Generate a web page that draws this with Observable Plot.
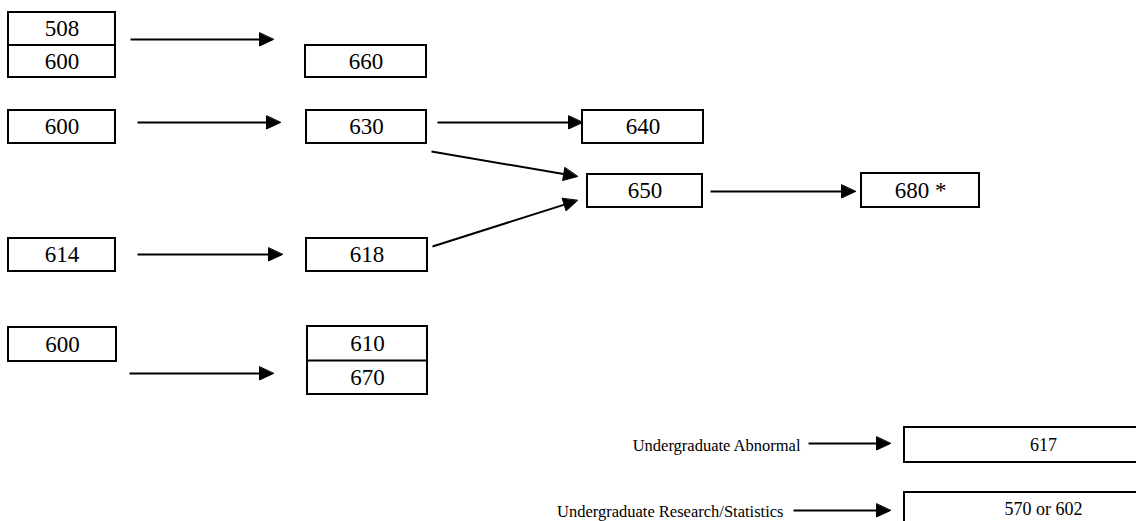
<!DOCTYPE html>
<html><head><meta charset="utf-8">
<script src="https://cdn.jsdelivr.net/npm/d3@7"></script>
<script src="https://cdn.jsdelivr.net/npm/@observablehq/plot@0.6"></script>
<style>html,body{margin:0;padding:0;background:#fff;overflow:hidden}</style>
</head><body><div id="chart"></div>
<script>
// Course labels (a box may hold one or two stacked courses)
const courseLabels = [
  ["508", "600"], ["660"],
  ["600"], ["630"], ["640"],
  ["650"], ["680 *"],
  ["614"], ["618"],
  ["600"], ["610", "670"],
  ["617"], ["570 or 602"]
];
// Text labels for undergraduate prerequisites
const sideLabels = ["Undergraduate Abnormal", "Undergraduate Research/Statistics"];

// Layout of the diagram (diagram units = pixels of the 1136x521 frame)
const boxLayout = [
  [8, 115, 12, 77], [305, 426, 45, 77],
  [8, 115, 110, 143], [306, 426, 110, 143], [582, 703, 110, 143],
  [587, 702, 174, 207], [861, 979, 173, 207],
  [8, 115, 238, 271], [306, 427, 238, 271],
  [8, 116, 327, 361], [307, 427, 326, 394],
  [904, 1182, 427, 462], [904, 1182, 492, 540]
];
const arrowLayout = [
  [130, 39, 273, 39],
  [137, 122, 280, 122],
  [437, 122, 582, 122],
  [431, 151, 577, 176],
  [432, 246, 577, 200],
  [710, 191, 855, 191],
  [137, 254, 282, 254],
  [129, 373, 273, 373],
  [808, 443, 890, 443],
  [793, 510, 890, 510]
];
const sideLayout = [[800, 445], [783, 511]];

const font = "Liberation Serif, Times New Roman, serif";
const fsBox = 23;
const fsLow = 18;
const fsSide = 16.5;

const boxes = boxLayout.map(([x1, x2, y1, y2], i) => ({x1, x2, y1, y2, labels: courseLabels[i]}));
const cells = boxes.flatMap(b => b.labels.map((t, j) => {
  const h = (b.y2 - b.y1) / b.labels.length;
  const yy1 = b.y1 + h * j, yy2 = yy1 + h;
  return {text: t, x: (b.x1 + Math.min(b.x2, 1182)) / 2, y: (yy1 + Math.min(yy2, 525)) / 2,
          low: b.x2 > 1136};
}));
const dividers = boxes.filter(b => b.labels.length > 1).map(b => ({x1: b.x1, x2: b.x2, y: (b.y1 + b.y2) / 2}));

const headLen = 14, headHalf = 6.5;
const arrows = arrowLayout.map(([x1, y1, x2, y2], i) => {
  const a = Math.atan2(y2 - y1, x2 - x1);
  return {id: i, x1, y1, x2: x2 - Math.cos(a) * headLen * 0.8, y2: y2 - Math.sin(a) * headLen * 0.8, tx: x2, ty: y2, a};
});
const heads = arrows.flatMap(r => {
  const bx = r.tx - Math.cos(r.a) * headLen, by = r.ty - Math.sin(r.a) * headLen;
  const nx = -Math.sin(r.a) * headHalf, ny = Math.cos(r.a) * headHalf;
  return [
    {id: r.id, x: r.tx, y: r.ty},
    {id: r.id, x: bx + nx, y: by + ny},
    {id: r.id, x: bx - nx, y: by - ny}
  ];
});
const sides = sideLayout.map(([x, y], i) => ({x, y, text: sideLabels[i]}));

const chart = Plot.plot({
  width: 1136, height: 521, margin: 0,
  x: {domain: [0, 1136], axis: null},
  y: {domain: [0, 521], reverse: true, axis: null},
  style: {background: "white"},
  marks: [
    Plot.rect(boxes, {x1: "x1", x2: "x2", y1: "y1", y2: "y2", fill: "none", stroke: "black", strokeWidth: 2, clip: true}),
    Plot.link(dividers, {x1: "x1", x2: "x2", y1: "y", y2: "y", stroke: "black", strokeWidth: 2}),
    Plot.text(cells.filter(d => !d.low), {x: "x", y: "y", text: "text", fontFamily: font, fontSize: fsBox, fill: "black"}),
    Plot.text(cells.filter(d => d.low), {x: "x", y: "y", text: "text", fontFamily: font, fontSize: fsLow, fill: "black"}),
    Plot.link(arrows, {x1: "x1", y1: "y1", x2: "x2", y2: "y2", stroke: "black", strokeWidth: 2}),
    Plot.line(heads, {x: "x", y: "y", z: "id", fill: "black", stroke: "black", strokeWidth: 1, curve: "linear-closed"}),
    Plot.text(sides, {x: "x", y: "y", text: "text", textAnchor: "end", fontFamily: font, fontSize: fsSide, fill: "black"})
  ]
});
document.getElementById("chart").append(chart);
</script>
</body></html>
